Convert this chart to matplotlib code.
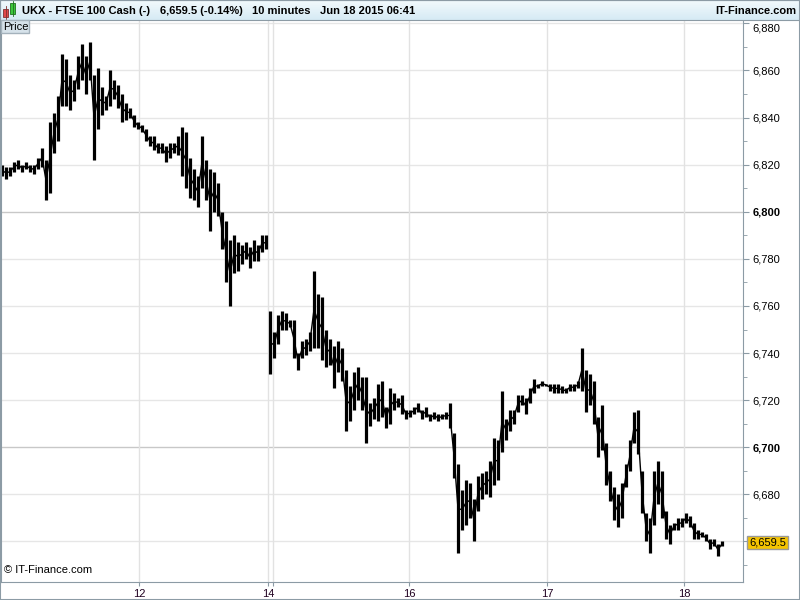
import numpy as np
import matplotlib
matplotlib.use("Agg")
import matplotlib.pyplot as plt
from matplotlib.patches import Rectangle

plt.rcParams['font.family'] = ['Liberation Sans', 'DejaVu Sans']

# FTSE 100 cash, 10 minute bars, grouped 4 at a time (low / high of each group)
lows = [6815, 6814, 6815, 6817, 6818, 6817, 6818, 6817, 6816, 6818,
        6819, 6805, 6808, 6825, 6830, 6845, 6845, 6843, 6847, 6852,
        6856, 6850, 6856, 6822, 6835, 6841, 6843, 6845, 6848, 6844,
        6838, 6839, 6840, 6836, 6835, 6834, 6830, 6828, 6826, 6825,
        6825, 6821, 6823, 6825, 6824, 6815, 6810, 6806, 6805, 6802,
        6810, 6805, 6792, 6800, 6798, 6784, 6770, 6760, 6774, 6775,
        6778, 6780, 6776, 6779, 6779, 6783, 6784,
        6731, 6738, 6744, 6750, 6750, 6751, 6738, 6733, 6738, 6739,
        6741, 6742, 6742, 6737, 6734, 6735, 6725, 6732, 6728, 6707,
        6711, 6716, 6720, 6716, 6702, 6709, 6712, 6711, 6713, 6708,
        6710, 6716, 6717, 6714, 6712, 6713, 6714, 6715, 6712, 6713,
        6711, 6712, 6711, 6712, 6712, 6708, 6687, 6655, 6665, 6667,
        6670, 6660, 6673, 6678, 6680, 6679, 6684, 6686, 6698, 6703,
        6707, 6710, 6715, 6718, 6714, 6719, 6723, 6725, 6726, 6726,
        6724, 6723, 6723, 6723, 6723, 6724, 6724, 6725, 6724, 6715,
        6718, 6710, 6696, 6699, 6684, 6677, 6669, 6666, 6670, 6683,
        6690, 6702, 6697, 6672, 6660, 6655, 6667, 6676, 6670, 6661,
        6659, 6665, 6665, 6666, 6668, 6666, 6661, 6661, 6662, 6660,
        6657, 6658, 6654, 6658]
highs = [6820, 6819, 6819, 6821, 6822, 6820, 6821, 6820, 6820, 6823,
         6827, 6822, 6838, 6842, 6849, 6867, 6865, 6858, 6856, 6866,
         6871, 6866, 6872, 6858, 6861, 6853, 6849, 6860, 6856, 6854,
         6850, 6846, 6844, 6841, 6838, 6837, 6835, 6832, 6832, 6829,
         6829, 6828, 6829, 6829, 6832, 6836, 6834, 6823, 6818, 6815,
         6832, 6822, 6818, 6817, 6812, 6800, 6796, 6788, 6790, 6787,
         6786, 6787, 6785, 6788, 6786, 6790, 6790,
         6758, 6749, 6756, 6758, 6757, 6754, 6754, 6740, 6745, 6746,
         6749, 6775, 6765, 6764, 6750, 6746, 6743, 6745, 6742, 6733,
         6726, 6732, 6734, 6730, 6730, 6719, 6721, 6727, 6728, 6717,
         6725, 6723, 6721, 6722, 6716, 6716, 6717, 6719, 6716, 6717,
         6714, 6715, 6714, 6714, 6715, 6719, 6706, 6693, 6682, 6686,
         6685, 6678, 6688, 6689, 6690, 6694, 6704, 6703, 6724, 6712,
         6716, 6716, 6722, 6722, 6721, 6725, 6729, 6727, 6728, 6727,
         6727, 6727, 6727, 6726, 6725, 6727, 6727, 6728, 6742, 6733,
         6731, 6728, 6713, 6718, 6702, 6690, 6683, 6680, 6685, 6693,
         6703, 6715, 6716, 6690, 6672, 6670, 6690, 6694, 6690, 6673,
         6667, 6668, 6670, 6670, 6672, 6671, 6668, 6665, 6664, 6663,
         6661, 6661, 6659, 6660]
monday_open = 67          # first group after the weekend gap
last_price = 6659.5

day_pos = [34.25, 66.5, 67.75, 101.75, 136.25, 170.5]
day_labels = ['12', '14', '', '16', '17', '18']

W, H = 800, 600
grey = '#8c9ba5'


def box(l, t, r, b):
    return [l / W, 1 - b / H, (r - l) / W, (b - t) / H]


fig = plt.figure(figsize=(8, 6), dpi=100)

ax = fig.add_axes(box(1, 20, 743, 582))
ax.set_xlim(-0.25, 185.25)
ax.set_ylim(6642.8, 6881.4)

yt = np.arange(6660, 6881, 20)
for v in yt:
    dark = v in (6700, 6800)
    ax.axhline(v, color='#c8c8c8' if dark else '#e6e6e6', lw=1, zorder=0)
for p in day_pos:
    ax.axvline(p, color='#e2e2e2', lw=1, zorder=0)

lo = np.array(lows, dtype=float)
hi = np.array(highs, dtype=float)
mid = (lo + hi) / 2
idx = np.arange(len(lo))
for seg in (slice(0, monday_open), slice(monday_open, None)):
    ax.plot(idx[seg], mid[seg], color='black', lw=1.0)
ax.vlines(idx, lo, hi, color='black', lw=2.3, capstyle='butt')

for s in ax.spines.values():
    s.set_color(grey)
ax.spines['top'].set_visible(False)

ax.yaxis.tick_right()
ax.set_yticks(yt)
ax.set_yticklabels(['' if v == 6660 else f'{v:,}' for v in yt], fontsize=8)
ax.set_yticks(np.arange(6650, 6881, 10), minor=True)
ax.tick_params(axis='y', which='major', length=4, color=grey, pad=3)
ax.tick_params(axis='y', which='minor', length=3, color=grey)
for lab, v in zip(ax.get_yticklabels(), yt):
    if v in (6700, 6800):
        lab.set_fontweight('bold')
    if v == 6880:
        lab.set_verticalalignment('top')

ax.set_xticks(day_pos)
ax.set_xticklabels(day_labels, fontsize=8, color='#200020')
ax.tick_params(axis='x', length=3, color=grey, pad=2)

ax.text(0.004, 0.012, '\u00a9 IT-Finance.com', transform=ax.transAxes,
        fontsize=8, va='bottom', ha='left')

# Price tag in the top-left corner
fig.patches.append(Rectangle((1 / W, 1 - 33 / H), 28 / W, 13 / H, transform=fig.transFigure,
                             facecolor='#d6e2ea', edgecolor='#a4b2bc', lw=1, zorder=5))
fig.text(3 / W, 1 - 27 / H, 'Price', fontsize=8, va='center', ha='left', zorder=6)

# last price tag
fig.text(749 / W, 1 - 542.6 / H, f'{last_price:,}', fontsize=8, va='center', ha='left', zorder=6,
         bbox=dict(boxstyle='square,pad=0.15', facecolor='#f5c400', edgecolor='#9a9a9a', lw=1))

# header bar
hx = fig.add_axes(box(0, 0, 800, 20))
grad = np.linspace(0, 1, 20).reshape(-1, 1)
top_c = np.array([0.95, 0.98, 0.99])
bot_c = np.array([0.84, 0.92, 0.96])
img = top_c + grad[..., None] * (bot_c - top_c)
hx.imshow(img, extent=(0, 800, 20, 0), aspect='auto')
hx.set_xlim(0, 800)
hx.set_ylim(20, 0)
hx.set_xticks([])
hx.set_yticks([])
for s in hx.spines.values():
    s.set_color(grey)
hx.add_patch(Rectangle((3, 9), 5, 8, facecolor='#e04848', edgecolor='#803030', lw=0.6))
hx.plot([5.5, 5.5], [6, 19], color='#803030', lw=0.6)
hx.add_patch(Rectangle((10, 3), 5, 11, facecolor='#3cc83c', edgecolor='#207020', lw=0.6))
hx.plot([12.5, 12.5], [1, 16], color='#207020', lw=0.6)
hdr = dict(fontsize=8, fontweight='bold', va='center')
hx.text(22, 10.5, 'UKX - FTSE 100 Cash (-)', **hdr)
hx.text(160, 10.5, '6,659.5 (-0.14%)', **hdr)
hx.text(252, 10.5, '10 minutes', **hdr)
hx.text(320, 10.5, 'Jun 18 2015 06:41', **hdr)
hx.text(796, 10.5, 'IT-Finance.com', ha='right', **hdr)

fig.patches.append(Rectangle((0, 0), 1, 1, transform=fig.transFigure, fill=False,
                             edgecolor=grey, lw=1.5, zorder=10))

fig.savefig('out.png', dpi=100)
